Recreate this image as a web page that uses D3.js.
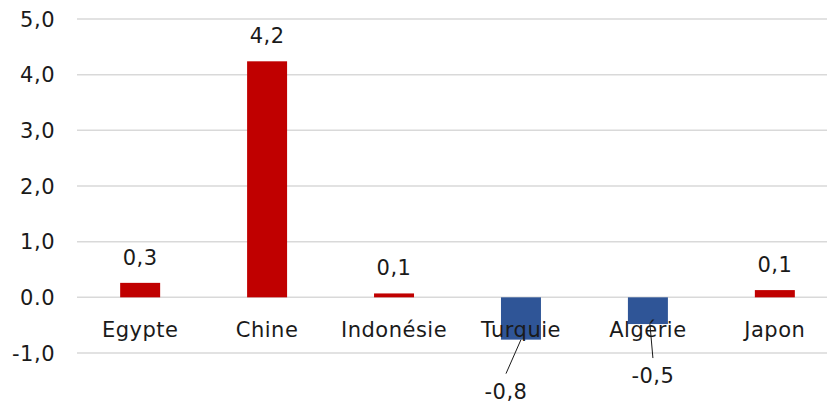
<!DOCTYPE html>
<html>
<head>
<meta charset="utf-8">
<script src="https://cdn.jsdelivr.net/npm/d3@7"></script>
<style>
body { margin:0; background:#fff; }
text { font-family: "DejaVu Sans", sans-serif; fill:#1a1a1a; letter-spacing:0.5px; }
</style>
</head>
<body>
<script>
// Categories and values
const countries = ["Egypte", "Chine", "Indonésie", "Turquie", "Algérie", "Japon"];
const values = [0.26, 4.24, 0.07, -0.76, -0.48, 0.13];
const valueLabels = ["0,3", "4,2", "0,1", "-0,8", "-0,5", "0,1"];
const yTicks = [-1, 0, 1, 2, 3, 4, 5];
const yTickLabels = ["-1,0", "0.0", "1,0", "2,0", "3,0", "4,0", "5,0"];

const data = countries.map(function(c, i){
  return {name:c, value:values[i], label:valueLabels[i]};
});

const width = 827;
const height = 403;

const svg = d3.select("body")
.append("svg")
.attr("width", width)
.attr("height", height);

const xScale = d3.scaleBand()
.domain(countries)
.range([77, 838])
.paddingInner(0.685)
.paddingOuter(0.34);

const yScale = d3.scaleLinear()
.domain([-1, 5])
.range([353, 19]);

// gridlines
svg.selectAll("line.grid")
.data(yTicks)
.enter()
.append("line")
.attr("class","grid")
.attr("x1", 77)
.attr("x2", width)
.attr("y1", function(d){ return yScale(d); })
.attr("y2", function(d){ return yScale(d); })
.attr("stroke","#d9d9d9")
.attr("stroke-width",1.5);

// y tick labels
svg.selectAll("text.ytick")
.data(yTicks)
.enter()
.append("text")
.attr("class","ytick")
.attr("x", 55)
.attr("y", function(d){ return yScale(d) + 7.5; })
.attr("text-anchor","end")
.attr("font-size","21px")
.text(function(d, i){ return yTickLabels[i]; });

// bars
svg.selectAll("rect.bar")
.data(data)
.enter()
.append("rect")
.attr("class","bar")
.attr("x", function(d){ return xScale(d.name); })
.attr("width", xScale.bandwidth())
.attr("y", function(d){ return yScale(Math.max(0, d.value)); })
.attr("height", function(d){ return Math.abs(yScale(d.value) - yScale(0)); })
.attr("fill", function(d){ return d.value >= 0 ? "#c00000" : "#2f5597"; });

// category labels
svg.selectAll("text.cat")
.data(data)
.enter()
.append("text")
.attr("class","cat")
.attr("x", function(d){ return xScale(d.name) + xScale.bandwidth()/2; })
.attr("y", yScale(0) + 40)
.attr("text-anchor","middle")
.attr("font-size","21px")
.text(function(d){ return d.name; });

// value labels: negative ones are pulled below with a leader line
const shift = {"Turquie": -15, "Algérie": 5};
const lineStart = {"Turquie": 0, "Algérie": 2};

const lab = svg.selectAll("g.lab")
.data(data)
.enter()
.append("g")
.attr("class","lab");

lab.filter(function(d){ return d.value < 0; })
.append("line")
.attr("x1", function(d){ return xScale(d.name) + xScale.bandwidth()/2 + lineStart[d.name]; })
.attr("y1", function(d){ return yScale(d.value); })
.attr("x2", function(d){ return xScale(d.name) + xScale.bandwidth()/2 + shift[d.name]; })
.attr("y2", function(d){ return yScale(d.value) + 34; })
.attr("stroke","#1a1a1a")
.attr("stroke-width",1);

lab.append("text")
.attr("x", function(d){
  const cx = xScale(d.name) + xScale.bandwidth()/2;
  return d.value < 0 ? cx + shift[d.name] : cx;
})
.attr("y", function(d){
  return d.value < 0 ? yScale(d.value) + 59 : yScale(d.value) - 18;
})
.attr("text-anchor","middle")
.attr("font-size","21px")
.text(function(d){ return d.label; });
</script>
</body>
</html>
